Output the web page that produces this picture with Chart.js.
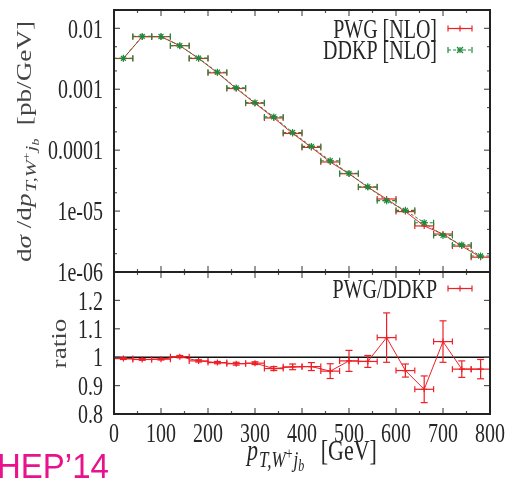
<!DOCTYPE html>
<html>
<head>
<meta charset="utf-8">
<script src="https://cdn.jsdelivr.net/npm/chart.js@4.4.1/dist/chart.umd.min.js"></script>
<style>
  html, body { margin: 0; padding: 0; background: #fff; }
  #wrap { position: relative; width: 510px; height: 482px; overflow: hidden; }
  #topChart { position: absolute; left: 0; top: 0; }
  #ratioChart { position: absolute; left: 0; top: 262px; }
</style>
</head>
<body>
<div id="wrap">
  <canvas id="topChart" width="510" height="282"></canvas>
  <canvas id="ratioChart" width="510" height="220"></canvas>
</div>
<script>
// bin centres in pT (GeV), 40 GeV wide bins
const ptBins = [20, 60, 100, 140, 180, 220, 260, 300, 340, 380, 420, 460, 500, 540, 580, 620, 660, 700, 740, 780];
const binHalfWidth = 20;

// dsigma/dpT [pb/GeV]
const pwgNLO = [0.0032, 0.0073, 0.0073, 0.0052, 0.0032, 0.00186, 0.00103, 0.00059, 0.000338, 0.000188,
  0.000111, 6.4e-5, 4.1e-5, 2.47e-5, 1.58e-5, 9.8e-6, 5.7e-6, 4.2e-6, 2.66e-6, 1.75e-6];
const ddkpNLO = [0.00322, 0.00736, 0.00735, 0.00519, 0.00324, 0.0019, 0.00105, 0.000603, 0.000352, 0.000195,
  0.000115, 6.7e-5, 4.15e-5, 2.5e-5, 1.48e-5, 1.03e-5, 6.43e-6, 3.98e-6, 2.78e-6, 1.83e-6];

// PWG/DDKP
const ratio = [0.995, 0.992, 0.993, 1.002, 0.987, 0.981, 0.977, 0.979, 0.960, 0.966,
  0.967, 0.951, 0.987, 0.985, 1.069, 0.953, 0.887, 1.055, 0.958, 0.958];
const ratioErr = [0.003, 0.003, 0.003, 0.004, 0.004, 0.004, 0.005, 0.005, 0.007, 0.010,
  0.014, 0.026, 0.037, 0.021, 0.087, 0.023, 0.047, 0.073, 0.029, 0.034];

// axis ticks
const xTicks = [0, 100, 200, 300, 400, 500, 600, 700, 800];
const xMinorTicks = [50, 150, 250, 350, 450, 550, 650, 750];
const yTicksTop = [0.01, 0.001, 0.0001, 1e-5, 1e-6];
const yTickLabelsTop = ['0.01', '0.001', '0.0001', '1e-05', '1e-06'];
const yMinorTop = [0.005, 0.002, 5e-4, 2e-4, 5e-5, 2e-5, 5e-6, 2e-6];
const yTicksRatio = [0.8, 0.9, 1, 1.1, 1.2, 1.3];
const yTickLabelsRatio = ['0.8', '0.9', '1', '1.1', '1.2', ''];

const RED = '#ee2027';
const GREEN = '#1f8a3c';
const INK = '#262626';
const TICK = '#555';
const SERIF = '"Liberation Serif", "Times New Roman", serif';
const STRETCH = 1.36; // the original figure is squeezed sideways, text looks tall

function fontOf(p) { return (p.i ? 'italic ' : '') + p.s + 'px ' + SERIF; }

// draw a run of text pieces (sub/superscripts via dy), stretched vertically on the page
function drawRich(ctx, parts, x, y, align, rotated, color) {
  ctx.save();
  let w = 0;
  parts.forEach(p => { ctx.font = fontOf(p); w += ctx.measureText(p.t).width + (p.gap || 0); });
  ctx.translate(x, y);
  ctx.scale(1, STRETCH);
  if (rotated) ctx.rotate(-Math.PI / 2);
  let cx = align === 'center' ? -w / 2 : align === 'right' ? -w : 0;
  ctx.fillStyle = color || INK;
  ctx.textBaseline = 'alphabetic';
  ctx.textAlign = 'left';
  parts.forEach(p => {
    ctx.font = fontOf(p);
    ctx.fillText(p.t, cx, p.dy || 0);
    cx += ctx.measureText(p.t).width + (p.gap || 0);
  });
  ctx.restore();
}

// single label centred vertically on (x, y)
function drawLabel(ctx, text, x, y, align, size) {
  drawRich(ctx, [{ t: text, s: size, dy: 0.338 * size }], x, y, align, false);
}

function seg(ctx, x1, y1, x2, y2) {
  ctx.beginPath(); ctx.moveTo(x1, y1); ctx.lineTo(x2, y2); ctx.stroke();
}

function drawFrame(chart, yMajor, yMinor) {
  const { ctx, chartArea: a, scales: { x, y } } = chart;
  ctx.save();
  ctx.strokeStyle = TICK;
  ctx.lineWidth = 1.2;
  xTicks.forEach(v => {
    const px = x.getPixelForValue(v);
    seg(ctx, px, a.bottom, px, a.bottom - 6); seg(ctx, px, a.top, px, a.top + 6);
  });
  xMinorTicks.forEach(v => {
    const px = x.getPixelForValue(v);
    seg(ctx, px, a.bottom, px, a.bottom - 3); seg(ctx, px, a.top, px, a.top + 3);
  });
  yMajor.forEach(v => {
    const py = y.getPixelForValue(v);
    seg(ctx, a.left, py, a.left + 6, py); seg(ctx, a.right, py, a.right - 6, py);
  });
  yMinor.forEach(v => {
    const py = y.getPixelForValue(v);
    seg(ctx, a.left, py, a.left + 3, py); seg(ctx, a.right, py, a.right - 3, py);
  });
  ctx.strokeStyle = '#222';
  ctx.lineWidth = 2;
  ctx.strokeRect(a.left, a.top, a.right - a.left, a.bottom - a.top);
  ctx.restore();
}

function drawXErr(ctx, chart, ds, color, dash) {
  const { x, y } = chart.scales;
  ctx.save();
  ctx.strokeStyle = color;
  ctx.lineWidth = 1.2;
  ds.forEach((v, i) => {
    const x1 = x.getPixelForValue(ptBins[i] - binHalfWidth);
    const x2 = x.getPixelForValue(ptBins[i] + binHalfWidth);
    const py = y.getPixelForValue(v);
    ctx.setLineDash(dash);
    seg(ctx, x1, py, x2, py);
    ctx.setLineDash([]);
    seg(ctx, x1, py - 3, x1, py + 3);
    seg(ctx, x2, py - 3, x2, py + 3);
  });
  ctx.restore();
}

function legendSample(ctx, x1, x2, py, color, dash, marker) {
  ctx.save();
  ctx.strokeStyle = color;
  ctx.lineWidth = 1.2;
  ctx.setLineDash(dash);
  seg(ctx, x1, py, x2, py);
  ctx.setLineDash([]);
  seg(ctx, x1, py - 3, x1, py + 3);
  seg(ctx, x2, py - 3, x2, py + 3);
  const m = (x1 + x2) / 2;
  seg(ctx, m - 3, py, m + 3, py); seg(ctx, m, py - 3, m, py + 3);
  if (marker === 'star') { seg(ctx, m - 3, py - 3, m + 3, py + 3); seg(ctx, m - 3, py + 3, m + 3, py - 3); }
  ctx.restore();
}

function pSubscript(main, sub, subsub) {
  return [
    { t: 'p', s: main, i: true, gap: 1 },
    { t: 'T,W', s: sub, i: true, dy: 5 },
    { t: '+', s: subsub, dy: -1, gap: 1 },
    { t: 'j', s: sub, i: true, dy: 5 },
    { t: 'b', s: subsub, i: true, dy: 8 }
  ];
}

const topDecor = {
  id: 'topDecor',
  beforeDatasetsDraw(chart) {
    drawXErr(chart.ctx, chart, pwgNLO, RED, []);
    drawXErr(chart.ctx, chart, ddkpNLO, GREEN, [3, 2]);
  },
  afterDraw(chart) {
    const { ctx, chartArea: a, scales: { y } } = chart;
    drawFrame(chart, yTicksTop, yMinorTop);
    yTicksTop.forEach((v, i) => drawLabel(ctx, yTickLabelsTop[i], a.left - 11, y.getPixelForValue(v), 'right', 20));
    drawRich(ctx, [
      { t: 'd', s: 20 }, { t: 'σ', s: 20, i: true }, { t: ' /d', s: 20 }
    ].concat(pSubscript(20, 15, 10)).concat([{ t: '  [pb/GeV]', s: 20 }]), 31, 141.5, 'center', true, '#444');
    // legend, gnuplot style: text right aligned, sample on the right
    drawLabel(ctx, 'PWG [NLO]', 437, 28.5, 'right', 20);
    drawLabel(ctx, 'DDKP [NLO]', 437, 50, 'right', 20);
    legendSample(ctx, 448, 472, 28.5, RED, [], 'cross');
    legendSample(ctx, 448, 472, 50, GREEN, [3, 2], 'star');
  }
};

const ratioDecor = {
  id: 'ratioDecor',
  beforeDatasetsDraw(chart) {
    const { ctx, chartArea: a, scales: { x, y } } = chart;
    ctx.save();
    ctx.strokeStyle = '#111';
    ctx.lineWidth = 1.5;
    const p1 = y.getPixelForValue(1);
    seg(ctx, a.left, p1, a.right, p1);
    ctx.strokeStyle = RED;
    ctx.lineWidth = 1.2;
    ratio.forEach((v, i) => {
      const x1 = x.getPixelForValue(ptBins[i] - binHalfWidth);
      const x2 = x.getPixelForValue(ptBins[i] + binHalfWidth);
      const px = x.getPixelForValue(ptBins[i]);
      const py = y.getPixelForValue(v);
      const yt = y.getPixelForValue(v + ratioErr[i]);
      const yb = y.getPixelForValue(v - ratioErr[i]);
      seg(ctx, x1, py, x2, py);
      seg(ctx, x1, py - 3, x1, py + 3);
      seg(ctx, x2, py - 3, x2, py + 3);
      seg(ctx, px, yt, px, yb);
      seg(ctx, px - 3.5, yt, px + 3.5, yt);
      seg(ctx, px - 3.5, yb, px + 3.5, yb);
    });
    ctx.restore();
  },
  afterDraw(chart) {
    const { ctx, chartArea: a, scales: { x, y } } = chart;
    drawFrame(chart, yTicksRatio, []);
    yTicksRatio.forEach((v, i) => drawLabel(ctx, yTickLabelsRatio[i], a.left - 11, y.getPixelForValue(v), 'right', 20));
    xTicks.forEach(v => drawLabel(ctx, String(v), x.getPixelForValue(v), a.bottom + 18.5, 'center', 20));
    drawRich(ctx, [{ t: 'ratio', s: 20 }], 66, 81.5, 'center', true, '#444');
    drawRich(ctx, pSubscript(22, 17, 12).concat([{ t: '   [GeV]', s: 22 }]), 312, 198, 'center', false);
    drawLabel(ctx, 'PWG/DDKP', 437, 26.5, 'right', 20);
    legendSample(ctx, 448, 472, 26.5, RED, [], 'cross');
    // slide footer that is cut into the picture
    ctx.save();
    ctx.fillStyle = '#e8128c';
    ctx.font = '33px "Liberation Sans", Arial, sans-serif';
    ctx.translate(-3, 216);
    ctx.scale(1, 1.06);
    ctx.fillText('HEP\u201914', 0, 0);
    ctx.restore();
  }
};

const noAxis = {
  ticks: { display: false },
  grid: { display: false },
  border: { display: false }
};

new Chart(document.getElementById('topChart'), {
  type: 'line',
  data: {
    datasets: [
      {
        label: 'PWG [NLO]',
        data: ptBins.map((v, i) => ({ x: v, y: pwgNLO[i] })),
        borderColor: RED,
        backgroundColor: RED,
        borderWidth: 1,
        pointStyle: 'cross',
        pointRadius: 3,
        pointBorderWidth: 1.2,
        order: 2
      },
      {
        label: 'DDKP [NLO]',
        data: ptBins.map((v, i) => ({ x: v, y: ddkpNLO[i] })),
        borderColor: GREEN,
        backgroundColor: GREEN,
        borderWidth: 1,
        borderDash: [3, 2],
        pointStyle: 'star',
        pointRadius: 3.5,
        pointBorderWidth: 1.2,
        order: 1
      }
    ]
  },
  options: {
    responsive: false,
    animation: false,
    layout: { padding: { left: 0, right: 20, top: 10, bottom: 10 } },
    plugins: { legend: { display: false }, tooltip: { enabled: false } },
    scales: {
      x: { type: 'linear', min: 0, max: 800, display: false },
      y: Object.assign({ type: 'logarithmic', min: 1e-6, max: 0.02, afterFit: s => { s.width = 114; } }, noAxis)
    }
  },
  plugins: [topDecor]
});

new Chart(document.getElementById('ratioChart'), {
  type: 'line',
  data: {
    datasets: [{
      label: 'PWG/DDKP',
      data: ptBins.map((v, i) => ({ x: v, y: ratio[i] })),
      borderColor: RED,
      backgroundColor: RED,
      borderWidth: 1,
      pointStyle: 'cross',
      pointRadius: 3,
      pointBorderWidth: 1.2
    }]
  },
  options: {
    responsive: false,
    animation: false,
    layout: { padding: { left: 0, right: 20, top: 10, bottom: 0 } },
    plugins: { legend: { display: false }, tooltip: { enabled: false } },
    scales: {
      x: Object.assign({ type: 'linear', min: 0, max: 800, afterFit: s => { s.height = 68; } }, noAxis),
      y: Object.assign({ type: 'linear', min: 0.8, max: 1.3, afterFit: s => { s.width = 114; } }, noAxis)
    }
  },
  plugins: [ratioDecor]
});
</script>
</body>
</html>
